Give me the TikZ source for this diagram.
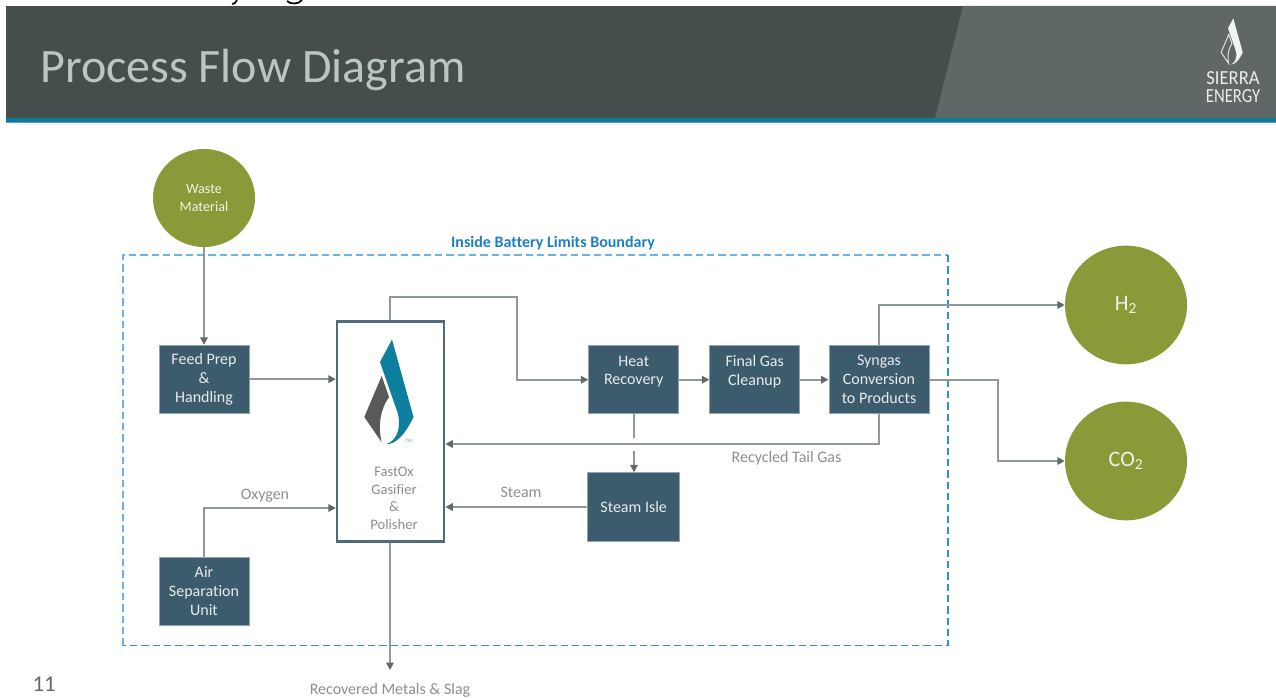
\documentclass[tikz,border=0pt]{standalone}
\usepackage{fontspec}
\setmainfont[Ligatures=NoCommon]{Carlito}
\usetikzlibrary{arrows.meta,shapes.geometric}
\definecolor{hdrdark}{HTML}{464E4D}
\definecolor{hdrlight}{HTML}{5F6866}
\definecolor{teal}{HTML}{0B7A9B}
\definecolor{titlecol}{HTML}{B9C6C3}
\definecolor{boxcol}{HTML}{3C5C6D}
\definecolor{boxedge}{HTML}{8FA5B0}
\definecolor{greenc}{HTML}{8B9A38}
\definecolor{linecol}{HTML}{8F9999}
\definecolor{tipcol}{HTML}{5F6B6B}
\definecolor{labelcol}{HTML}{8C8F8F}
\definecolor{dashlight}{HTML}{6DB3E6}
\definecolor{dashdark}{HTML}{2F8FD8}
\definecolor{blueflame}{HTML}{0F7F9F}
\definecolor{greyflame}{HTML}{58595B}
\definecolor{bluetitle}{HTML}{1F7FC4}
\newcommand{\flameblue}{(392,339.5) -- (413.5,417) .. controls (405,435) and (395,445) .. (386,444) .. controls (395,442) and (402,430) .. (397.7,413) -- (380,362) -- cycle}
\newcommand{\flamegrey}{(381.7,376) -- (364.3,417) -- (381.5,442) .. controls (378,425) and (380,410) .. (389,397) -- cycle}
\tikzset{
  procbox/.style={draw=boxedge,line width=0.5pt,fill=boxcol,text=white!88!boxcol,font=\fontsize{12pt}{14.2pt}\selectfont,align=center,inner sep=0pt},
  feedcircle/.style={ellipse,draw=none,fill=greenc,text=white!88!greenc,inner sep=0pt,align=center},
  flow/.style={draw=linecol,line width=1.35pt,-{Triangle[length=5.6pt,width=5.6pt,fill=tipcol,color=tipcol]}},
  flowplain/.style={draw=linecol,line width=1.35pt},
  flowlabel/.style={text=labelcol,font=\fontsize{12pt}{14pt}\selectfont,inner sep=0pt,align=center},
  brandtext/.style={text=white!88!hdrlight,font=\fontsize{13pt}{13pt}\selectfont,inner sep=0pt}
}
\begin{document}
\begin{tikzpicture}[x=0.75pt,y=-0.75pt]
\useasboundingbox (0,0) rectangle (1276,698);
% header
\fill[hdrdark] (6,6) rectangle (1276,118);
\fill[hdrlight] (963,6) -- (1276,6) -- (1276,118) -- (935,118) -- cycle;
\fill[teal] (6,118) rectangle (1276,122);
\fill[teal!70!white] (6,122) rectangle (1276,123);
% clipped strokes of a line above the header
\draw[black,line width=1.3pt] (237,0) .. controls (236,3) and (234,4) .. (232,4);
\draw[black,line width=1.3pt] (287,1) .. controls (290,4.5) and (299,4.5) .. (302,0);
\node[anchor=base west,text=titlecol,font=\fontsize{36pt}{40pt}\selectfont,inner sep=0pt] (title) at (40,83) {Process Flow Diagram};
\begin{scope}[shift={(1060.8,-131)},scale=0.44]
  \fill[white!92!hdrlight] \flameblue;
  \draw[white!85!hdrlight,line width=0.7pt] \flamegrey;
\end{scope}
\node[brandtext] (brandtop) at (1233,78.5) {\scalebox{1.07}[1.15]{SIERRA}};
\node[brandtext] (brandbot) at (1233,96) {\scalebox{0.96}[1.15]{ENERGY}};
% boundary
\draw[dashlight,line width=1.5pt,dash pattern=on 5.5pt off 3pt] (123,645.6) -- (123,255) -- (948,255);
\draw[dashdark,line width=1.2pt,dash pattern=on 5.5pt off 3pt] (948,255) -- (948,645.6) -- (123,645.6);
\node[text=bluetitle,font=\bfseries\fontsize{12pt}{14pt}\selectfont,inner sep=0pt] (limits) at (553,243.5) {Inside Battery Limits Boundary};
% nodes
\node[feedcircle,minimum width=76.5pt,minimum height=73.5pt,font=\fontsize{10.6pt}{13pt}\selectfont] (waste) at (204,198) {\rule{0pt}{3pt}Waste\\Material};
\node[feedcircle,minimum width=91.5pt,minimum height=89pt,font=\fontsize{16.5pt}{18pt}\selectfont] (htwo) at (1126,305) {H\textsubscript{2}};
\node[feedcircle,minimum width=91.5pt,minimum height=89pt,font=\fontsize{16.5pt}{18pt}\selectfont] (cotwo) at (1126,461) {CO\textsubscript{2}};
\node[procbox,minimum width=67.7pt,minimum height=51pt] (feed) at (204,379.2) {Feed Prep\\\&\\Handling};
\node[procbox,minimum width=67.5pt,minimum height=51pt,text depth=14pt] (heat) at (633.7,379.7) {Heat\\Recovery};
\node[procbox,minimum width=67.5pt,minimum height=51pt,text depth=14pt] (final) at (754.7,379.7) {Final Gas\\Cleanup};
\node[procbox,minimum width=75.2pt,minimum height=51pt] (syn) at (879,379.7) {Syngas\\Conversion\\to Products};
\node[procbox,minimum width=69pt,minimum height=51.5pt] (steam) at (633.7,507) {Steam Isle};
\node[procbox,minimum width=67.7pt,minimum height=51pt] (air) at (204,591.3) {Air\\Separation\\Unit};
\node[draw=boxcol!90!white,line width=1.6pt,fill=white,minimum width=80.5pt,minimum height=165pt,inner sep=0pt] (gas) at (390.6,431.5) {};
\fill[blueflame] \flameblue;
\fill[greyflame] \flamegrey;
\node[text=labelcol,font=\fontsize{3.5pt}{4pt}\selectfont,inner sep=0pt] (tm) at (409,441.5) {TM};
\node[flowlabel,font=\fontsize{10.9pt}{13.2pt}\selectfont] (gaslabel) at (394,498.5) {FastOx\\Gasifier\\\&\\Polisher};
% labels
\node[flowlabel] (oxlabel) at (265,495.5) {Oxygen};
\node[flowlabel] (stlabel) at (521,492.5) {Steam};
\node[flowlabel] (taillabel) at (786.5,458) {Recycled Tail Gas};
\node[flowlabel] (slaglabel) at (390,690) {Recovered Metals \& Slag};
\node[text=tipcol,font=\fontsize{17pt}{20pt}\selectfont,inner sep=0pt] (pagenum) at (44,684) {11};
% connectors
\coordinate (gapa) at (634,438);
\coordinate (gapb) at (634,451);
\coordinate (slagend) at (390,670);
\coordinate (tailin) at (gas.east |- 0,444);
\coordinate (oxin) at (gas.west |- 0,508);
\draw[flow] (waste.south) -- (feed.north);
\draw[flow] (feed.east) -- (gas.west |- feed.east);
\draw[flow] (390,320) |- (517,297) |- (heat.west);
\draw[flow] (heat.east) -- (final.west);
\draw[flow] (final.east) -- (syn.west);
\draw[flow] (syn.north) |- (htwo.west);
\draw[flow] (syn.east) -| (998,420) |- (cotwo.west);
\draw[flow] (syn.south) |- (tailin);
\draw[flowplain] (heat.south -| gapa) -- (gapa);
\draw[flow] (gapb) -- (steam.north -| gapb);
\draw[flow] (steam.west) -- (gas.east |- steam.west);
\draw[flow] (air.north) |- (oxin);
\draw[flow] (gas.south -| slagend) -- (slagend);
\end{tikzpicture}
\end{document}
